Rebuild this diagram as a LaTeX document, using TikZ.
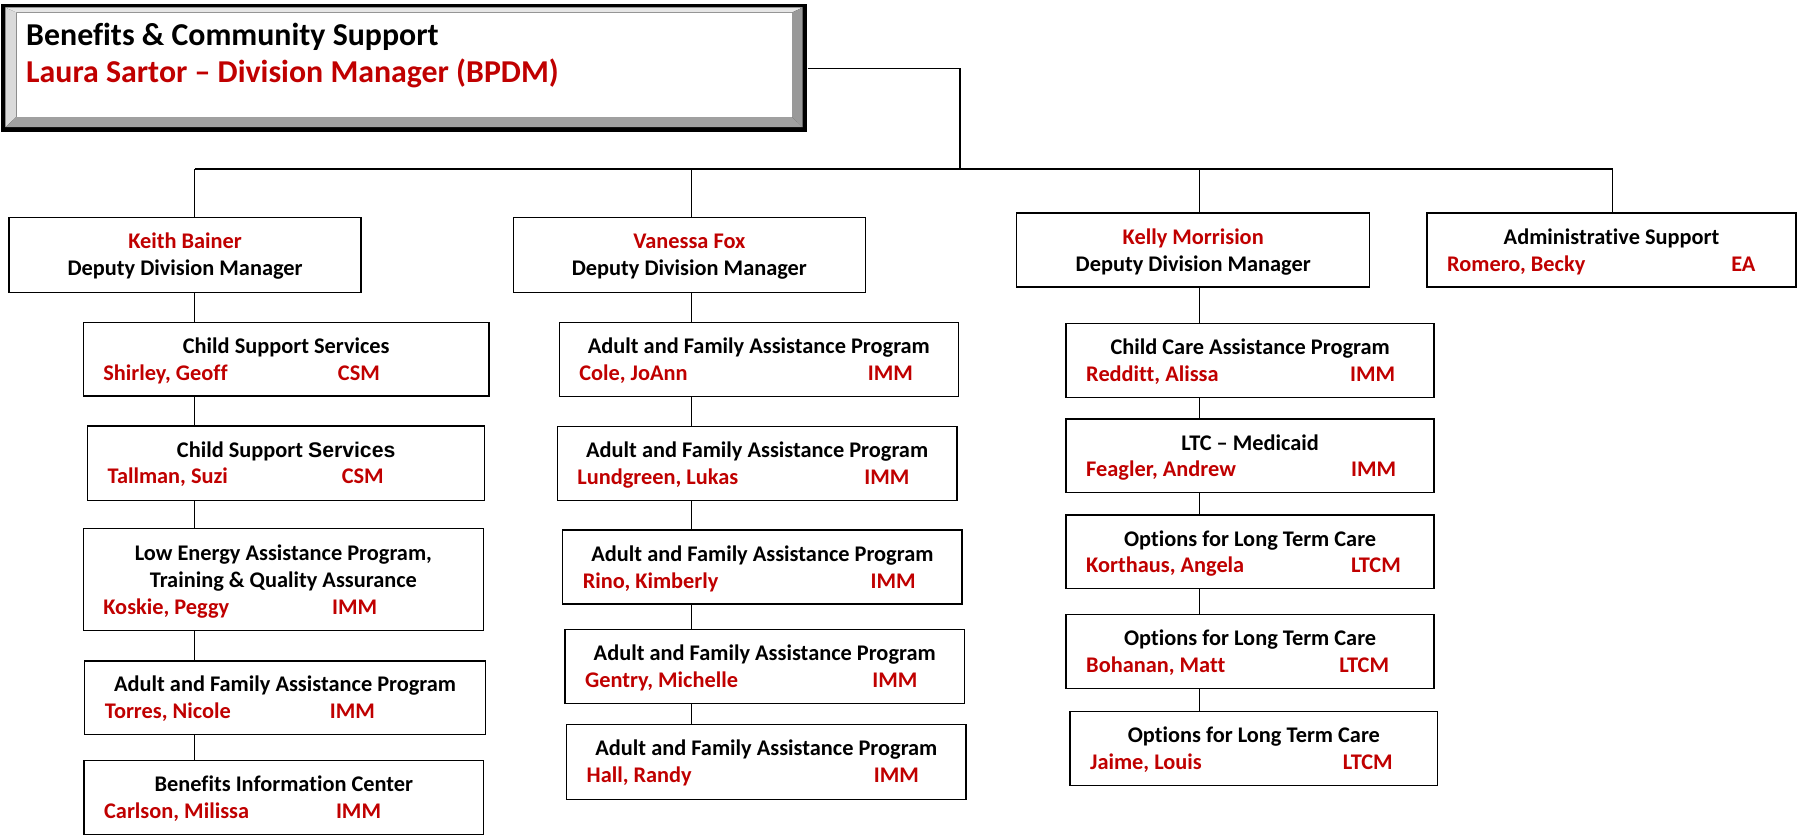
\documentclass[tikz,border=0pt]{standalone}
\usepackage{fontspec}
\setmainfont{Carlito}[Ligatures=NoCommon]
\newfontfamily\arialfont{Liberation Sans}
\usetikzlibrary{calc}
\definecolor{ored}{HTML}{C00000}
\definecolor{bevtop}{HTML}{E6E6E6}
\definecolor{bevleft}{HTML}{DADADA}
\definecolor{bevright}{HTML}{999999}
\definecolor{bevbot}{HTML}{A0A0A0}
\tikzset{
  obox/.style={draw=black, line width=1.2pt, rectangle, inner sep=0pt, fill=white},
  txt/.style={font=\fontsize{19.5}{23.5}\selectfont\bfseries, inner sep=0pt},
  blk/.style={txt, text=black},
  rtxt/.style={txt, text=ored},
  conn/.style={draw=black, line width=1pt},
}
% person box: name, x1, y1, x2, y2, title, person, role, role x
\newcommand\pbox[9]{%
  \node[obox, minimum width={(#4-#2)*1pt}, minimum height={(#5-#3)*1pt}] (#1) at ({(#2+#4)/2},{(#3+#5)/2}) {};
  \node[blk, anchor=base] (#1-t) at ({(#2+#4)/2},{#3+27.2}) {#6};
  \node[rtxt, anchor=base west] (#1-n) at ({#2+17.3},{#3+50.5}) {#7};
  \node[rtxt, anchor=base west] (#1-r) at (#9,{#3+50.5}) {#8};
}
% deputy box: name, x1, y1, x2, y2, red line, black line
\newcommand\dbox[7]{%
  \node[obox, minimum width={(#4-#2)*1pt}, minimum height={(#5-#3)*1pt}] (#1) at ({(#2+#4)/2},{(#3+#5)/2}) {};
  \node[rtxt, anchor=base] (#1-n) at ({(#2+#4)/2},{#3+27.2}) {#6};
  \node[blk, anchor=base] (#1-t) at ({(#2+#4)/2},{#3+50.8}) {#7};
}
\begin{document}
\begin{tikzpicture}[x=1pt,y=-1pt]
\useasboundingbox (0,0) rectangle (1568,730.4);

% ---- top box with bevel
\node[fill=black, inner sep=0pt, minimum width=703.8pt, minimum height=111.5pt] (top) at (352.5,59.25) {};
\fill[bevtop] (4.6,6.5) -- (700.4,6.5) -- (690.8,11) -- (14.5,11) -- cycle;
\fill[bevleft] (4.6,6.5) -- (14.5,11) -- (14.5,101.8) -- (4.6,111) -- cycle;
\fill[bevright] (700.4,6.5) -- (700.4,111) -- (690.8,101.8) -- (690.8,11) -- cycle;
\fill[bevbot] (4.6,111) -- (14.5,101.8) -- (690.8,101.8) -- (700.4,111) -- cycle;
\fill[white] (14.5,11) rectangle (690.8,101.8);
\node[anchor=base west, inner sep=0pt, font=\fontsize{27.8}{33}\selectfont\bfseries] (toptitle) at (22.7,40.1) {Benefits \& Community Support};
\node[anchor=base west, inner sep=0pt, text=ored, font=\fontsize{27.8}{33}\selectfont\bfseries] (topname) at (22.7,72.2) {Laura Sartor – Division Manager (BPDM)};

% ---- column x positions
\coordinate (busjoin) at (837.7,147.5);
\coordinate (kx) at (170,0);
\coordinate (vx) at (603.4,0);
\coordinate (mx) at (1046.5,0);
\coordinate (ax) at (1407,0);

% ---- deputy row
\dbox{keith}{8}{190}{315}{255}{Keith Bainer}{Deputy Division Manager}
\dbox{vanessa}{448}{190}{755}{255}{Vanessa Fox}{Deputy Division Manager}
\dbox{kelly}{887.2}{186}{1195.1}{250.3}{Kelly Morrision}{Deputy Division Manager}
\pbox{admin}{1245.2}{186}{1567}{250.3}{Administrative Support}{Romero, Becky}{EA}{1510.5}

% ---- Keith column
\pbox{css1}{72.7}{281.6}{426.8}{345.5}{Child Support Services}{Shirley, Geoff}{CSM}{294.7}
\pbox{css2}{76.4}{371.6}{423}{436.5}{Child Support {\arialfont\fontsize{18.5}{20}\selectfont\bfseries Services}}{Tallman, Suzi}{CSM}{298}
\node[obox, minimum width={(421.8-72.7)*1pt}, minimum height={(550-461.4)*1pt}] (leap) at ({(72.7+421.8)/2},{(461.4+550)/2}) {};
\node[blk, anchor=base] (leap-t1) at ({(72.7+421.8)/2},489.2) {Low Energy Assistance Program,};
\node[blk, anchor=base] (leap-t2) at ({(72.7+421.8)/2},512.8) {Training \& Quality Assurance};
\node[rtxt, anchor=base west] (leap-n) at (90,536.6) {Koskie, Peggy};
\node[rtxt, anchor=base west] (leap-r) at (289.6,536.6) {IMM};
\pbox{torres}{74}{576.6}{423.5}{641}{Adult and Family Assistance Program}{Torres, Nicole}{IMM}{287.7}
\pbox{bic}{73.4}{663.4}{422}{728}{Benefits Information Center}{Carlson, Milissa}{IMM}{293}

% ---- Vanessa column
\pbox{cole}{488}{281.4}{836.3}{346}{Adult and Family Assistance Program}{Cole, JoAnn}{IMM}{757}
\pbox{lund}{486.3}{372.3}{835}{436.9}{Adult and Family Assistance Program}{Lundgreen, Lukas}{IMM}{754}
\pbox{rino}{491}{462.6}{839.5}{527}{Adult and Family Assistance Program}{Rino, Kimberly}{IMM}{759.5}
\pbox{gentry}{493}{549.4}{841.5}{614}{Adult and Family Assistance Program}{Gentry, Michelle}{IMM}{761}
\pbox{hall}{494.4}{632.4}{843}{697.7}{Adult and Family Assistance Program}{Hall, Randy}{IMM}{762.4}

% ---- Kelly column
\pbox{cca}{930.3}{282.5}{1251.4}{347}{Child Care Assistance Program}{Redditt, Alissa}{IMM}{1177.8}
\pbox{ltc}{930.3}{365.7}{1251.4}{430}{LTC – Medicaid}{Feagler, Andrew}{IMM}{1178.7}
\pbox{kort}{930.3}{449.3}{1251.4}{513.7}{Options for Long Term Care}{Korthaus, Angela}{LTCM}{1178.7}
\pbox{boh}{930.3}{536.3}{1251.4}{601}{Options for Long Term Care}{Bohanan, Matt}{LTCM}{1168.4}
\pbox{jaime}{933.7}{621}{1254.5}{685.6}{Options for Long Term Care}{Jaime, Louis}{LTCM}{1171.6}

% ---- connectors
\draw[conn] (top.east |- 0,59.6) -| (busjoin);
\draw[conn] (kx |- busjoin) -- (ax |- busjoin);
\draw[conn] (kx |- busjoin) -- (kx |- keith.north);
\draw[conn] (vx |- busjoin) -- (vx |- vanessa.north);
\draw[conn] (mx |- busjoin) -- (mx |- kelly.north);
\draw[conn] (ax |- busjoin) -- (ax |- admin.north);

\draw[conn] (kx |- keith.south) -- (kx |- css1.north);
\draw[conn] (kx |- css1.south) -- (kx |- css2.north);
\draw[conn] (kx |- css2.south) -- (kx |- leap.north);
\draw[conn] (kx |- leap.south) -- (kx |- torres.north);
\draw[conn] (kx |- torres.south) -- (kx |- bic.north);

\draw[conn] (vx |- vanessa.south) -- (vx |- cole.north);
\draw[conn] (vx |- cole.south) -- (vx |- lund.north);
\draw[conn] (vx |- lund.south) -- (vx |- rino.north);
\draw[conn] (vx |- rino.south) -- (vx |- gentry.north);
\draw[conn] (vx |- gentry.south) -- (vx |- hall.north);

\draw[conn] (mx |- kelly.south) -- (mx |- cca.north);
\draw[conn] (mx |- cca.south) -- (mx |- ltc.north);
\draw[conn] (mx |- ltc.south) -- (mx |- kort.north);
\draw[conn] (mx |- kort.south) -- (mx |- boh.north);
\draw[conn] (mx |- boh.south) -- (mx |- jaime.north);
\end{tikzpicture}
\end{document}
